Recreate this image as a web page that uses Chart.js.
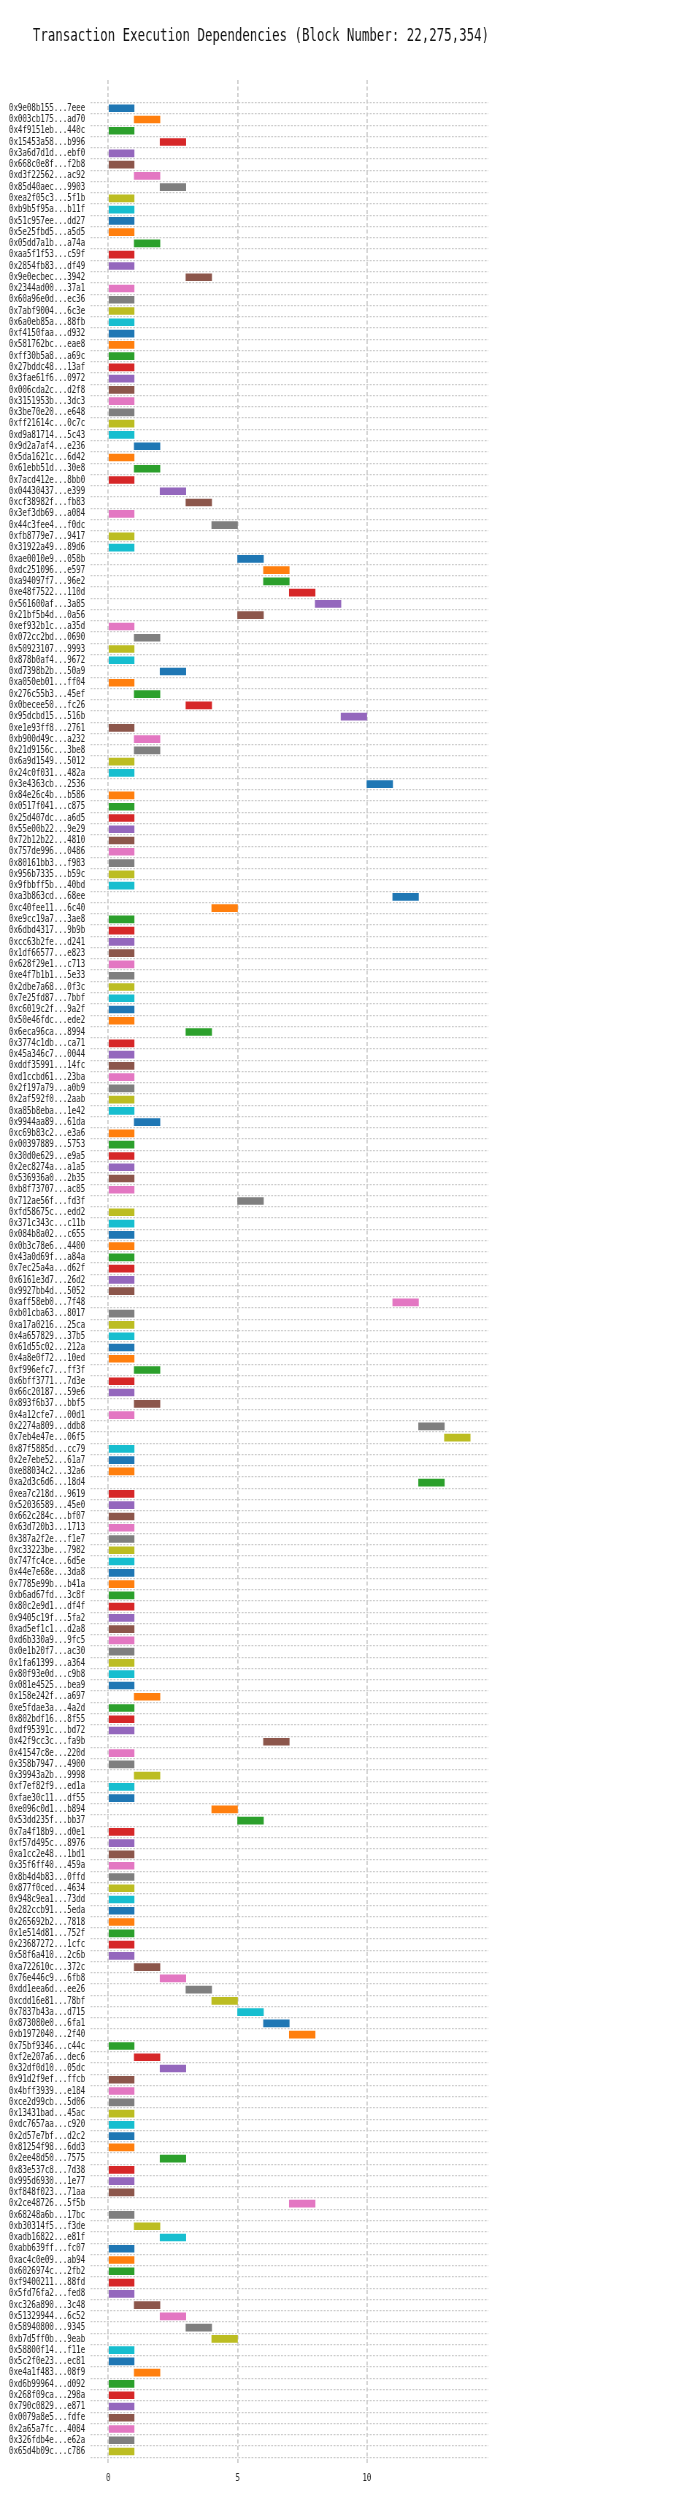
<!DOCTYPE html>
<html>
<head>
<meta charset="utf-8">
<script src="https://cdn.jsdelivr.net/npm/chart.js@4.4.1/dist/chart.umd.min.js"></script>
<style>
    html, body { margin: 0; padding: 0; background: #fff; overflow: hidden; }
</style>
</head>
<body>
<!-- the source figure is squeezed sideways: draw 959 wide, show it 700 wide -->
<canvas id="depChart" width="959" height="2508" style="width:700px;height:2508px"></canvas>
<script>
const chartTitle = 'Transaction Execution Dependencies (Block Number: 22,275,354)';

const txLabels = [
    '0x9e08b155...7eee', '0x003cb175...ad70', '0x4f9151eb...440c', '0x15453a58...b996', '0x3a6d7d1d...ebf0',
    '0x668c0e8f...f2b8', '0xd3f22562...ac92', '0x85d40aec...9903', '0xea2f05c3...5f1b', '0xb9b5f95a...b11f',
    '0x51c957ee...dd27', '0x5e25fbd5...a5d5', '0x05dd7a1b...a74a', '0xaa5f1f53...c59f', '0x2854fb83...df49',
    '0x9e0ecbec...3942', '0x2344ad00...37a1', '0x60a96e0d...ec36', '0x7abf9004...6c3e', '0x6a0eb85a...88fb',
    '0xf4150faa...d932', '0x581762bc...eae8', '0xff30b5a8...a69c', '0x27bddc48...13af', '0x3fae61f6...0972',
    '0x006cda2c...d2f8', '0x3151953b...3dc3', '0x3be70e20...e648', '0xff21614c...0c7c', '0xd9a81714...5c43',
    '0x9d2a7af4...e236', '0x5da1621c...6d42', '0x61ebb51d...30e8', '0x7acd412e...8bb0', '0x04430437...e399',
    '0xcf38982f...fb83', '0x3ef3db69...a084', '0x44c3fee4...f0dc', '0xfb8779e7...9417', '0x31922a49...89d6',
    '0xae0010e9...058b', '0xdc251096...e597', '0xa94097f7...96e2', '0xe48f7522...110d', '0x561600af...3a85',
    '0x21bf5b4d...0a56', '0xef932b1c...a35d', '0x072cc2bd...0690', '0x50923107...9993', '0x878b0af4...9672',
    '0xd7398b2b...50a9', '0xa050eb01...ff04', '0x276c55b3...45ef', '0x0becee50...fc26', '0x95dcbd15...516b',
    '0xe1e93ff8...2761', '0xb900d49c...a232', '0x21d9156c...3be8', '0x6a9d1549...5012', '0x24c0f031...482a',
    '0x3e4363cb...2536', '0x84e26c4b...b586', '0x0517f041...c875', '0x25d407dc...a6d5', '0x55e00b22...9e29',
    '0x72b12b22...4810', '0x757de996...0486', '0x80161bb3...f983', '0x956b7335...b59c', '0x9fbbff5b...40bd',
    '0xa3b863cd...68ee', '0xc40fee11...6c40', '0xe9cc19a7...3ae8', '0x6dbd4317...9b9b', '0xcc63b2fe...d241',
    '0x1df66577...e823', '0x628f29e1...c713', '0xe4f7b1b1...5e33', '0x2dbe7a68...0f3c', '0x7e25fd87...7bbf',
    '0xc6019c2f...9a2f', '0x50e46fdc...ede2', '0x6eca96ca...8994', '0x3774c1db...ca71', '0x45a346c7...0044',
    '0xddf35991...14fc', '0xd1ccbd61...23ba', '0x2f197a79...a0b9', '0x2af592f0...2aab', '0xa85b8eba...1e42',
    '0x9944aa89...61da', '0xc69b83c2...e3a6', '0x00397889...5753', '0x30d0e629...e9a5', '0x2ec8274a...a1a5',
    '0x536936a0...2b35', '0xb8f73707...ac85', '0x712ae56f...fd3f', '0xfd58675c...edd2', '0x371c343c...c11b',
    '0x084b8a02...c655', '0x0b3c78e6...4400', '0x43a0d69f...a84a', '0x7ec25a4a...d62f', '0x6161e3d7...26d2',
    '0x9927bb4d...5052', '0xaff58eb0...7f48', '0xb01cba63...8017', '0xa17a0216...25ca', '0x4a657829...37b5',
    '0x61d55c02...212a', '0x4a8e0f72...10ed', '0xf996efc7...ff3f', '0x6bff3771...7d3e', '0x66c20187...59e6',
    '0x893f6b37...bbf5', '0x4a12cfe7...00d1', '0x2274a809...ddb8', '0x7eb4e47e...06f5', '0x87f5885d...cc79',
    '0x2e7ebe52...61a7', '0xe88034c2...32a6', '0xa2d3c6d6...18d4', '0xea7c218d...9619', '0x52036589...45e0',
    '0x662c284c...bf07', '0x63d720b3...1713', '0x387a2f2e...f1e7', '0xc33223be...7982', '0x747fc4ce...6d5e',
    '0x44e7e68e...3da8', '0x7785e99b...b41a', '0xb6ad67fd...3c8f', '0x80c2e9d1...df4f', '0x9405c19f...5fa2',
    '0xad5ef1c1...d2a8', '0xd6b330a9...9fc5', '0x0e1b20f7...ac30', '0x1fa61399...a364', '0x80f93e0d...c9b8',
    '0x081e4525...bea9', '0x158e242f...a697', '0xe5fdae3a...4a2d', '0x802bdf16...8f55', '0xdf95391c...bd72',
    '0x42f9cc3c...fa9b', '0x41547c8e...220d', '0x358b7947...4900', '0x39943a2b...9998', '0xf7ef82f9...ed1a',
    '0xfae30c11...df55', '0xe096c0d1...b894', '0x53dd235f...bb37', '0x7a4f18b9...d0e1', '0xf57d495c...8976',
    '0xa1cc2e48...1bd1', '0x35f6ff40...459a', '0x8b4d4b83...0ffd', '0x877f0ced...4634', '0x948c9ea1...73dd',
    '0x282ccb91...5eda', '0x265692b2...7818', '0x1e514d81...752f', '0x23687272...1cfc', '0x58f6a410...2c6b',
    '0xa722610c...372c', '0x76e446c9...6fb8', '0xdd1eea6d...ee26', '0xcdd16e81...78bf', '0x7837b43a...d715',
    '0x873080e0...6fa1', '0xb1972040...2f40', '0x75bf9346...c44c', '0xf2e207a6...dec6', '0x32df0d10...05dc',
    '0x91d2f9ef...ffcb', '0x4bff3939...e184', '0xce2d99cb...5d06', '0x13431bad...45ac', '0xdc7657aa...c920',
    '0x2d57e7bf...d2c2', '0x81254f98...6dd3', '0x2ee48d50...7575', '0x83e537c8...7d38', '0x995d6930...1e77',
    '0xf848f023...71aa', '0x2ce48726...5f5b', '0x68248a6b...17bc', '0xb30314f5...f3de', '0xadb16822...e81f',
    '0xabb639ff...fc07', '0xac4c0e09...ab94', '0x6026974c...2fb2', '0xf9400211...88fd', '0x5fd76fa2...fed8',
    '0xc326a890...3c48', '0x51329944...6c52', '0x58940800...9345', '0xb7d5ff0b...9eab', '0x58800f14...f11e',
    '0x5c2f0e23...ec81', '0xe4a1f483...08f9', '0xd6b99964...d092', '0x268f09ca...298a', '0x790c0829...e871',
    '0x0079a8e5...fdfe', '0x2a65a7fc...4084', '0x326fdb4e...e62a', '0x65d4b09c...c786'
];

// execution slot where each transaction starts (same order as txLabels)
const startSlots = [
    0, 1, 0, 2, 0, 0, 1, 2, 0, 0,
    0, 0, 1, 0, 0, 3, 0, 0, 0, 0,
    0, 0, 0, 0, 0, 0, 0, 0, 0, 0,
    1, 0, 1, 0, 2, 3, 0, 4, 0, 0,
    5, 6, 6, 7, 8, 5, 0, 1, 0, 0,
    2, 0, 1, 3, 9, 0, 1, 1, 0, 0,
    10, 0, 0, 0, 0, 0, 0, 0, 0, 0,
    11, 4, 0, 0, 0, 0, 0, 0, 0, 0,
    0, 0, 3, 0, 0, 0, 0, 0, 0, 0,
    1, 0, 0, 0, 0, 0, 0, 5, 0, 0,
    0, 0, 0, 0, 0, 0, 11, 0, 0, 0,
    0, 0, 1, 0, 0, 1, 0, 12, 13, 0,
    0, 0, 12, 0, 0, 0, 0, 0, 0, 0,
    0, 0, 0, 0, 0, 0, 0, 0, 0, 0,
    0, 1, 0, 0, 0, 6, 0, 0, 1, 0,
    0, 4, 5, 0, 0, 0, 0, 0, 0, 0,
    0, 0, 0, 0, 0, 1, 2, 3, 4, 5,
    6, 7, 0, 1, 2, 0, 0, 0, 0, 0,
    0, 0, 2, 0, 0, 0, 7, 0, 1, 2,
    0, 0, 0, 0, 0, 1, 2, 3, 4, 0,
    0, 1, 0, 0, 0, 0, 0, 0, 0
];

// every transaction runs for one slot
const slotLength = 1;

const xTicks = [0, 5, 10];

const palette = ['#1f77b4', '#ff7f0e', '#2ca02c', '#d62728', '#9467bd',
                 '#8c564b', '#e377c2', '#7f7f7f', '#bcbd22', '#17becf'];

const monoFont = "'DejaVu Sans Mono', 'Liberation Mono', monospace";
Chart.defaults.font.family = monoFont;
Chart.defaults.color = '#222';

// title is centred on the original figure, not on the axes, so draw it by hand
const titlePlugin = {
    id: 'figTitle',
    afterDraw(chart) {
        const ctx = chart.ctx;
        ctx.save();
        ctx.translate(357.5, 40.5);
        ctx.scale(0.92, 1);
        ctx.font = '18.5px ' + monoFont;
        ctx.fillStyle = '#111';
        ctx.textAlign = 'center';
        ctx.textBaseline = 'alphabetic';
        ctx.fillText(chartTitle, 0, 0);
        ctx.restore();
    }
};

function drawChart() {
    const points = startSlots.map((s, i) => ({ x: [s, s + slotLength], y: i }));
    const colors = startSlots.map((_, i) => palette[i % palette.length]);

    new Chart(document.getElementById('depChart'), {
        type: 'bar',
        data: {
            datasets: [{
                data: points,
                backgroundColor: colors,
                borderWidth: 0,
                barThickness: 7
            }]
        },
        options: {
            indexAxis: 'y',
            responsive: false,
            devicePixelRatio: 1,
            animation: false,
            layout: { padding: { top: 80, left: 12.6, right: 290, bottom: 14 } },
            plugins: {
                legend: { display: false },
                tooltip: { enabled: false }
            },
            scales: {
                x: {
                    type: 'linear',
                    min: -0.7,
                    max: 14.7,
                    afterBuildTicks: (scale) => { scale.ticks = xTicks.map(v => ({ value: v })); },
                    afterFit: (scale) => { scale.height = 30; },
                    grid: { color: '#cccccc', lineWidth: 1.8, drawTicks: false },
                    border: { display: false, dash: [4, 2.5] },
                    ticks: { padding: 8, font: { size: 10.2 }, color: '#222' }
                },
                y: {
                    type: 'linear',
                    reverse: true,
                    min: -2,
                    max: 208.6,
                    afterBuildTicks: (scale) => { scale.ticks = txLabels.map((_, i) => ({ value: i })); },
                    afterFit: (scale) => { scale.width = 111; },
                    grid: { color: '#cccccc', lineWidth: 1.2, drawTicks: false },
                    border: { display: false, dash: [2.6, 1.9] },
                    ticks: {
                        autoSkip: false,
                        padding: 7,
                        font: { size: 10.2 },
                        color: '#222',
                        callback: (value) => txLabels[value]
                    }
                }
            }
        },
        plugins: [titlePlugin]
    });
}

drawChart();
</script>
</body>
</html>
